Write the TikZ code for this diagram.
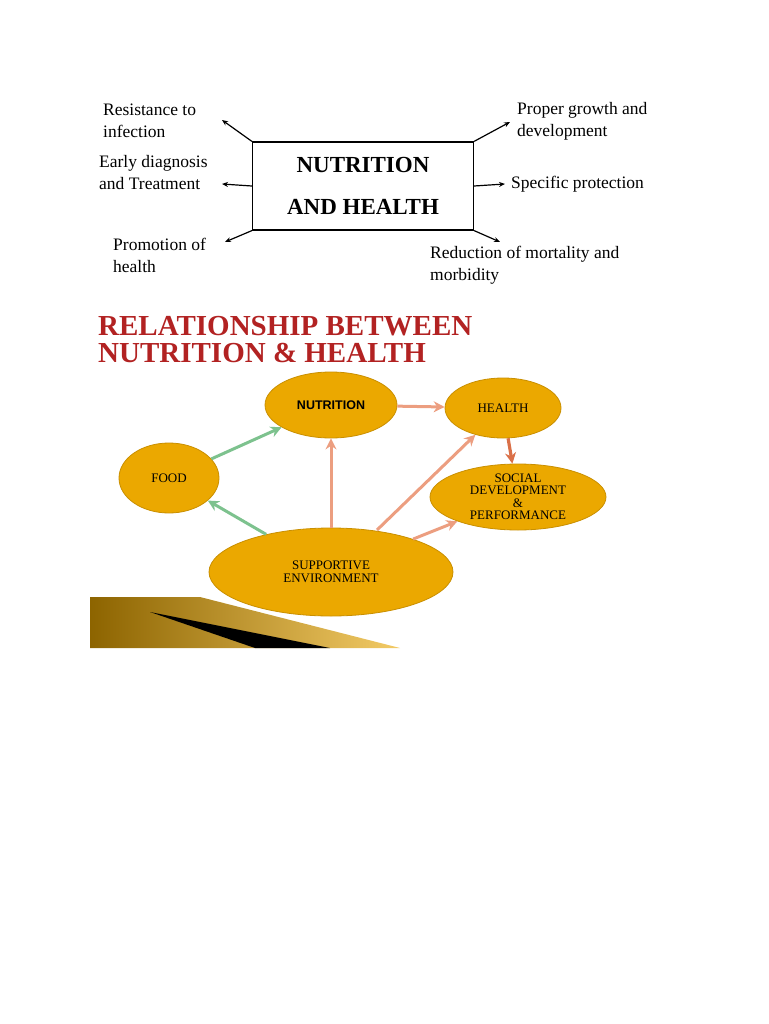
\documentclass[tikz,border=0pt]{standalone}
\usepackage{fontspec}
\setmainfont{Liberation Serif}
\setsansfont{Liberation Sans}
\usetikzlibrary{shapes.geometric,arrows.meta}
\definecolor{gold}{HTML}{EBA800}
\definecolor{goldd}{HTML}{C98F00}
\definecolor{grn}{HTML}{7DC28E}
\definecolor{sal}{HTML}{EC9E80}
\definecolor{sald}{HTML}{DA7048}
\definecolor{ttl}{HTML}{B22222}
\begin{document}
\begin{tikzpicture}[x=1pt,y=-1pt,
  lab/.style={font=\fontsize{17.5}{22}\selectfont,align=left,anchor=west,inner sep=0},
  arr/.style={-{Stealth[length=6pt,width=5pt]},line width=1.2pt},
  ell/.style={ellipse,fill=gold,draw=goldd,line width=0.8pt,inner sep=0,font=\fontsize{13}{12.5}\selectfont,align=center},
  garr/.style={-{Stealth[length=11pt,width=11pt]},grn,line width=3pt},
  sarr/.style={-{Stealth[length=11pt,width=11pt]},sal,line width=3pt}]
\useasboundingbox (0,0) rectangle (768,1024);
% top
\node[draw,line width=1.2pt,minimum width=221pt,minimum height=88pt,font=\bfseries\fontsize{23}{42}\selectfont,align=center] (box) at (363,186) {NUTRITION\\AND HEALTH};
\coordinate (c1) at (222,120); \coordinate (c2) at (222,184); \coordinate (c3) at (225,242);
\coordinate (c4) at (510,122); \coordinate (c5) at (505,184); \coordinate (c6) at (500,242);
\draw[arr] (box.north west) -- (c1);
\draw[arr] (box.west) -- (c2);
\draw[arr] (box.south west) -- (c3);
\draw[arr] (box.north east) -- (c4);
\draw[arr] (box.east) -- (c5);
\draw[arr] (box.south east) -- (c6);
\node[lab] (l1) at (103,121) {Resistance to\\infection};
\node[lab] (l2) at (99,173) {Early diagnosis\\and Treatment};
\node[lab] (l3) at (113,255) {Promotion of\\health};
\node[lab] (l4) at (517,121) {Proper growth and\\development};
\node[lab] (l5) at (511,184) {Specific protection};
\node[lab] (l6) at (430,265) {Reduction of mortality and\\morbidity};
% title
\node[anchor=west,inner sep=0,text=ttl,font=\bfseries\fontsize{29}{27}\selectfont,align=left] (t) at (98,340) {RELATIONSHIP BETWEEN\\NUTRITION \& HEALTH};
% band
\shade[left color=goldd!70!black,right color=gold!60!white] (90,597) -- (90,648) -- (400,648) -- (200,597) -- cycle;
\fill[black] (150,612) -- (330,648) -- (255,648) -- cycle;
% ellipses
\node[ell,minimum width=132pt,minimum height=66pt,font=\sffamily\bfseries\fontsize{12.5}{12}\selectfont] (nut) at (331,405) {NUTRITION};
\node[ell,minimum width=116pt,minimum height=60pt] (hea) at (503,408) {HEALTH};
\node[ell,minimum width=100pt,minimum height=70pt] (food) at (169,478) {FOOD};
\node[ell,minimum width=176pt,minimum height=66pt] (soc) at (518,497) {SOCIAL\\DEVELOPMENT\\\&\\PERFORMANCE};
\node[ell,minimum width=244pt,minimum height=88pt] (sup) at (331,572) {SUPPORTIVE\\ENVIRONMENT};
\draw[garr] (food) -- (nut);
\draw[garr] (sup) -- (food);
\draw[sarr] (nut) -- (hea);
\draw[sarr] (sup) -- (nut);
\draw[sarr] (377,530) -- (hea);
\draw[sarr] (sup) -- (soc);
\draw[-{Stealth[length=11pt,width=11pt]},sald,line width=3.2pt] (hea) -- (soc);
\end{tikzpicture}
\end{document}
